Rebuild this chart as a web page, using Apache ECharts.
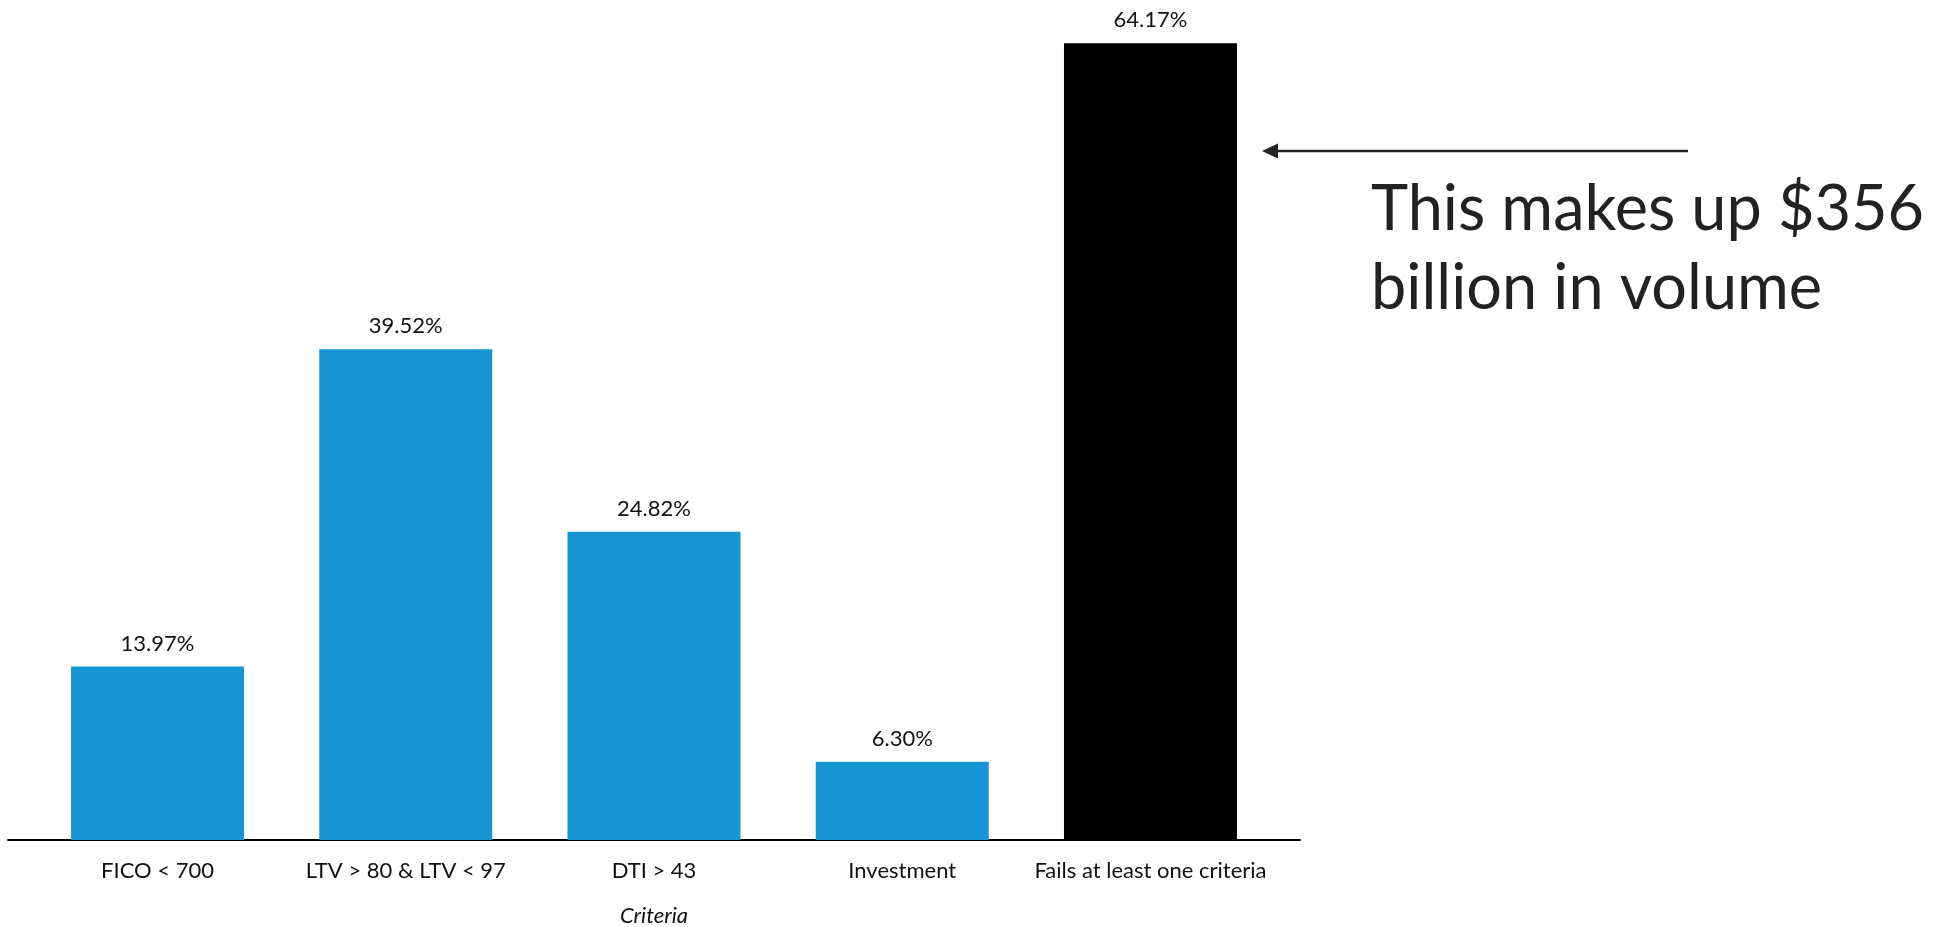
<!DOCTYPE html>
<html>
<head>
<meta charset="utf-8">
<title>Criteria</title>
<script src="https://cdn.jsdelivr.net/npm/echarts@6/dist/echarts.min.js"></script>
<style>
  html, body { margin: 0; padding: 0; background: #fff; }
  #chart { width: 1933px; height: 927px; }
</style>
</head>
<body>
<div id="chart"></div>
<script>
// data
var categories = ['FICO < 700', 'LTV > 80 & LTV < 97', 'DTI > 43', 'Investment', 'Fails at least one criteria'];
var shares = [13.97, 39.52, 24.82, 6.30, 64.17];
var axisName = 'Criteria';
var noteLines = ['This makes up $356', 'billion in volume'];

var highlightIndex = categories.length - 1; // last bar is black

var chart = echarts.init(document.getElementById('chart'));

var option = {
    animation: false,
    textStyle: { fontFamily: 'Lato, "Open Sans", sans-serif' },
    grid: [
        // bars
        { left: 33.4, right: 658.4, top: 33, bottom: 87, outerBoundsMode: 'none', containLabel: false },
        // only for the long base line
        { left: 8, right: 633, top: 33, bottom: 87, outerBoundsMode: 'none', containLabel: false }
    ],
    xAxis: [
        {
            type: 'category',
            gridIndex: 0,
            data: categories,
            axisLine: { show: false },
            axisTick: { show: false },
            axisLabel: { color: '#111', fontSize: 22, margin: 20, interval: 0 },
            name: axisName,
            nameLocation: 'middle',
            nameGap: 65,
            nameTextStyle: { color: '#111', fontSize: 22, fontStyle: 'italic' }
        },
        {
            type: 'value',
            gridIndex: 1,
            position: 'bottom',
            min: 0,
            max: 1,
            axisLine: { show: true, onZero: false, lineStyle: { color: '#000', width: 2 } },
            axisTick: { show: false },
            axisLabel: { show: false },
            splitLine: { show: false }
        }
    ],
    yAxis: [
        { type: 'value', gridIndex: 0, min: 0, max: 65, show: false },
        { type: 'value', gridIndex: 1, min: 0, max: 65, show: false }
    ],
    series: [
        {
            type: 'bar',
            xAxisIndex: 0,
            yAxisIndex: 0,
            data: shares,
            barWidth: 173,
            itemStyle: {
                color: function (p) {
                    return p.dataIndex === highlightIndex ? '#000000' : '#1896d3';
                }
            },
            label: {
                show: true,
                position: 'top',
                distance: 12,
                color: '#111',
                fontSize: 22,
                formatter: function (p) {
                    return p.value.toFixed(2) + '%';
                }
            }
        }
    ],
    graphic: [
        // arrow pointing at the black bar
        {
            type: 'line',
            shape: { x1: 1276, y1: 151, x2: 1688, y2: 151 },
            style: { stroke: '#222', lineWidth: 2.5 }
        },
        {
            type: 'polygon',
            shape: { points: [[1262, 151], [1278, 143.5], [1278, 158.5]] },
            style: { fill: '#222' }
        },
        {
            type: 'text',
            left: 1371,
            top: 170,
            style: {
                text: noteLines.join('\n'),
                fontFamily: 'Lato, "Open Sans", sans-serif',
                fontSize: 63,
                lineHeight: 79,
                fill: '#222'
            }
        }
    ]
};

chart.setOption(option);
</script>
</body>
</html>
